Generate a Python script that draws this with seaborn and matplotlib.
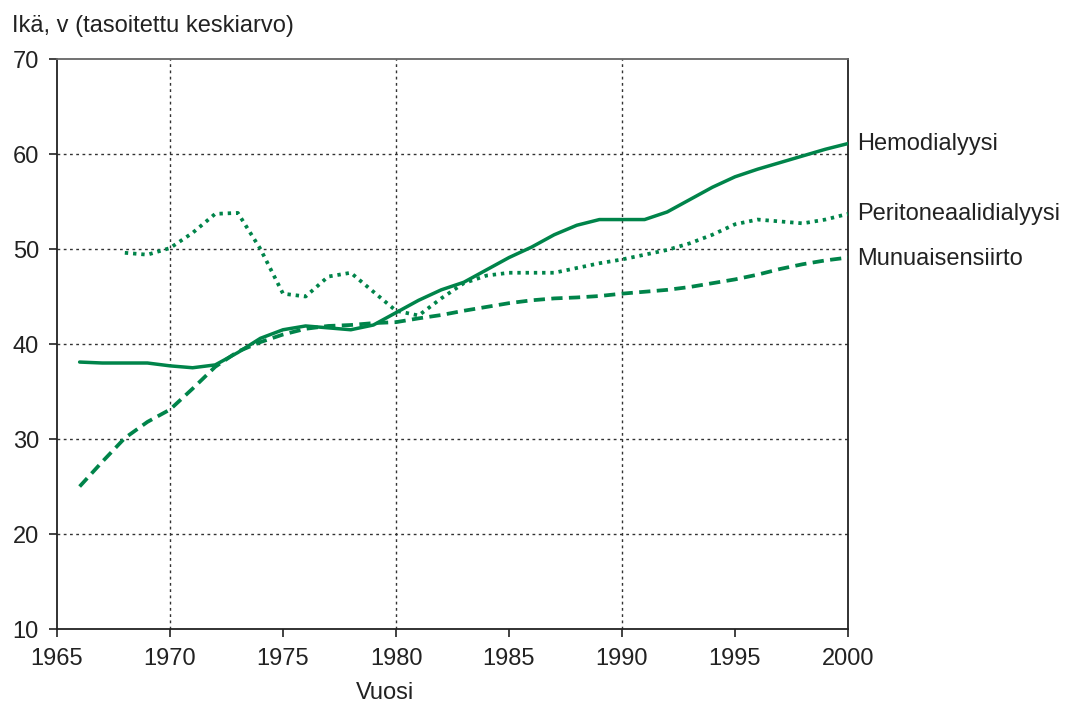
import numpy as np
import pandas as pd
import seaborn as sns
import matplotlib.pyplot as plt

# vuodet ja tasoitetut keski-iät
hemo_years = list(range(1966, 2001))
hemo_age = [38.1, 38.0, 38.0, 38.0, 37.7, 37.5, 37.8, 39.1, 40.6, 41.5,
            41.9, 41.7, 41.5, 42.0, 43.3, 44.6, 45.7, 46.5, 47.8, 49.1,
            50.2, 51.5, 52.5, 53.1, 53.1, 53.1, 53.9, 55.2, 56.5, 57.6,
            58.4, 59.1, 59.8, 60.5, 61.1]

perit_years = list(range(1968, 2001))
perit_age = [49.6, 49.4, 50.1, 51.7, 53.7, 53.8, 50.0, 45.3, 45.0, 47.1,
             47.5, 45.5, 43.5, 43.0, 44.8, 46.4, 47.2, 47.5, 47.5, 47.5,
             48.0, 48.5, 48.9, 49.4, 49.9, 50.6, 51.5, 52.6, 53.1, 52.9,
             52.7, 53.1, 53.7]

siirto_years = list(range(1966, 2001))
siirto_age = [25.0, 27.6, 30.1, 31.8, 33.1, 35.3, 37.6, 39.2, 40.2, 41.0,
              41.6, 41.9, 42.0, 42.2, 42.3, 42.7, 43.05, 43.5, 43.9, 44.3,
              44.6, 44.8, 44.9, 45.05, 45.3, 45.5, 45.7, 46.0, 46.4, 46.8,
              47.3, 47.9, 48.4, 48.8, 49.1]

labels = ['Hemodialyysi', 'Peritoneaalidialyysi', 'Munuaisensiirto']
x_ticks = [1965, 1970, 1975, 1980, 1985, 1990, 1995, 2000]
y_ticks = [10, 20, 30, 40, 50, 60, 70]

sns.set_style('white')
plt.rcParams['font.family'] = ['Liberation Sans', 'DejaVu Sans']

green = '#00844a'
fs = 17
fig = plt.figure(figsize=(10.7, 7.05), dpi=100)
ax = fig.add_axes([0.0533, 0.1078, 0.7392, 0.8085])

# ruudukko
for v in [20, 30, 40, 50, 60]:
    ax.axhline(v, color='#333333', lw=1, ls=(0, (2, 2.5)), zorder=1)
for v in [1970, 1980, 1990]:
    ax.axvline(v, color='#333333', lw=1, ls=(0, (2, 2.5)), zorder=1)

sns.lineplot(x=hemo_years, y=hemo_age, ax=ax, color=green, lw=2.5, zorder=3)
sns.lineplot(x=perit_years, y=perit_age, ax=ax, color=green, lw=2.7,
             ls=(0, (0.9, 1.3)), zorder=3)
sns.lineplot(x=siirto_years, y=siirto_age, ax=ax, color=green, lw=2.7,
             ls=(0, (3, 1.7)), zorder=3)

ax.set_xlim(1965, 2000)
ax.set_ylim(10, 70)
ax.set_xticks(x_ticks)
ax.set_yticks(y_ticks)
ax.tick_params(axis='both', bottom=True, left=True, direction='out',
               length=6, width=1.2, color='#222222', labelsize=fs,
               labelcolor='#222222')
ax.tick_params(axis='x', pad=8)
ax.tick_params(axis='y', pad=7)
for s in ['left', 'bottom', 'right']:
    ax.spines[s].set_color('#222222')
    ax.spines[s].set_linewidth(1.3)
ax.spines['top'].set_color('#666666')
ax.spines['top'].set_linewidth(1.3)

# sarjojen nimet oikealla
end_vals = [hemo_age[-1], perit_age[-1], siirto_age[-1] - 0.15]
for lab, v in zip(labels, end_vals):
    ax.text(1.011, v, lab, transform=ax.get_yaxis_transform(), va='center',
            ha='left', fontsize=fs, color='#222222', clip_on=False)

fig.text(0.011, 0.963, 'Ikä, v (tasoitettu keskiarvo)', fontsize=fs,
         color='#222222', va='center', ha='left')
fig.text(0.36, 0.017, 'Vuosi', fontsize=fs, color='#222222',
         va='center', ha='center')

plt.savefig('out.png', dpi=100)
